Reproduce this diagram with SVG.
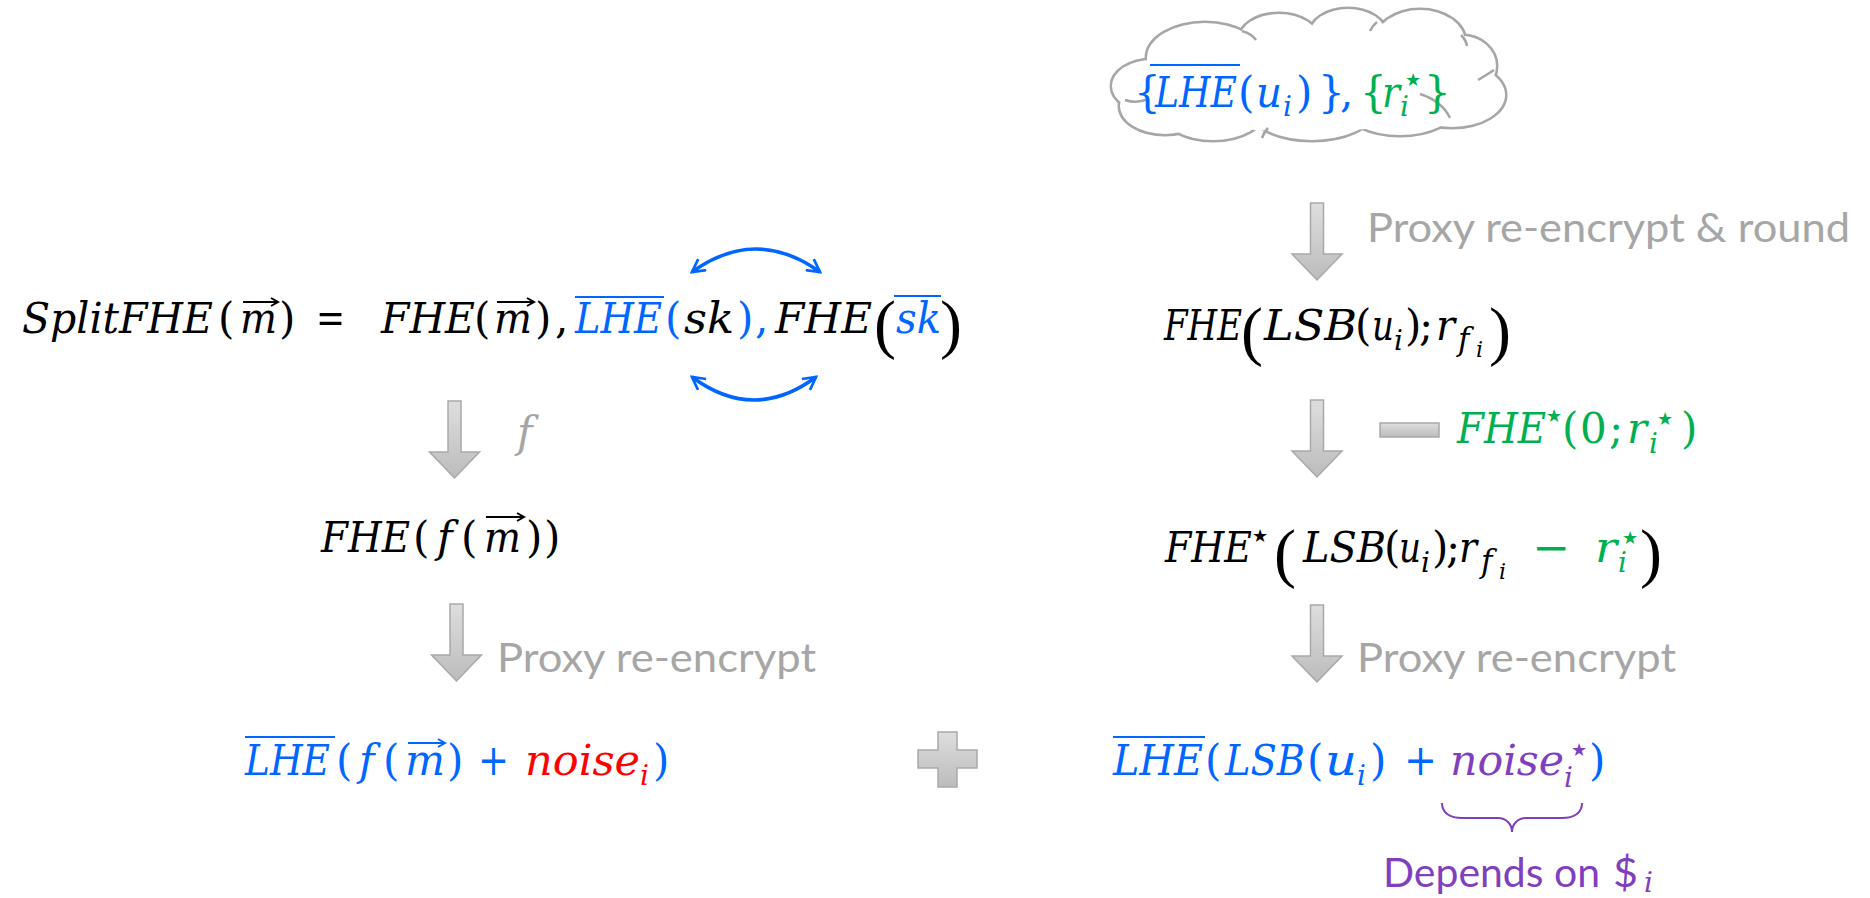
<svg xmlns="http://www.w3.org/2000/svg" width="1870" height="898" viewBox="0 0 1870 898">
<style>
.m{font-family:"DejaVu Serif","Liberation Serif",serif;font-style:italic;font-size:42px}
.n{font-style:normal}
.sub{font-size:28px}
.sf{font-size:31px}
.ss{font-size:22px}
.st{font-family:"DejaVu Sans",sans-serif;font-style:normal;font-size:18px}
.big{font-family:"Liberation Serif",serif;font-size:66px;font-style:normal}
.lbl{font-family:Lato,"Open Sans","Liberation Sans",sans-serif;font-size:40px}
.k{fill:#000}
.b{fill:#0066ff}
.g{fill:#00b050}
.r{fill:#ff0000}
.p{fill:#7f3fbf}
.gr{fill:#a6a6a6}
.blk{fill:url(#gg);stroke:#a9a9a9;stroke-width:1.5}
.cs{fill:#fff;stroke:#a6a6a6;stroke-width:5}
.cf{fill:#fff;stroke:none}
</style>
<defs>
<linearGradient id="gg" x1="0" y1="0" x2="0" y2="1">
<stop offset="0" stop-color="#dedede"/>
<stop offset="1" stop-color="#bcbcbc"/>
</linearGradient>
<path id="barrow" d="M-6.5,0 H6.5 V51 H25 L0,77 L-25,51 H-6.5 Z"/>
<marker id="oa" viewBox="0 0 14 14" refX="12" refY="7" markerWidth="16" markerHeight="16" markerUnits="userSpaceOnUse" orient="auto-start-reverse">
<path d="M1,1 L12,7 L1,13" fill="none" stroke="#0066ff" stroke-width="2.4"/>
</marker>
</defs>
<rect width="1870" height="898" fill="#fff"/>

<g id="connectors">
<use href="#barrow" x="454.5" y="401" class="blk"/>
<use href="#barrow" x="456.5" y="604" class="blk"/>
<use href="#barrow" x="1317" y="203" class="blk"/>
<use href="#barrow" x="1317" y="400" class="blk"/>
<use href="#barrow" x="1317" y="605" class="blk"/>
<path d="M692,272 Q756,226 820,272" fill="none" stroke="#0066ff" stroke-width="3.5" marker-start="url(#oa)" marker-end="url(#oa)"/>
<path d="M692,377 Q754,423 816,377" fill="none" stroke="#0066ff" stroke-width="3.5" marker-start="url(#oa)" marker-end="url(#oa)"/>
<rect x="1380" y="423" width="59" height="14" class="blk"/>
<path d="M938,732 H957 V750 H977 V768 H957 V787 H938 V768 H918 V750 H938 Z" class="blk"/>
</g>

<g id="cloud">
<g class="cs">
<ellipse cx="1152" cy="86" rx="40" ry="26"/>
<ellipse cx="1205" cy="58" rx="58" ry="35"/>
<ellipse cx="1279" cy="40" rx="40" ry="26"/>
<ellipse cx="1348" cy="34" rx="38" ry="25"/>
<ellipse cx="1420" cy="42" rx="45" ry="32"/>
<ellipse cx="1462" cy="66" rx="34" ry="30"/>
<ellipse cx="1452" cy="95" rx="53" ry="32"/>
<ellipse cx="1400" cy="108" rx="55" ry="27"/>
<ellipse cx="1312" cy="112" rx="60" ry="28"/>
<ellipse cx="1213" cy="110" rx="52" ry="30"/>
<ellipse cx="1165" cy="106" rx="45" ry="28"/>
</g>
<g class="cf">
<ellipse cx="1152" cy="86" rx="40" ry="26"/>
<ellipse cx="1205" cy="58" rx="58" ry="35"/>
<ellipse cx="1279" cy="40" rx="40" ry="26"/>
<ellipse cx="1348" cy="34" rx="38" ry="25"/>
<ellipse cx="1420" cy="42" rx="45" ry="32"/>
<ellipse cx="1462" cy="66" rx="34" ry="30"/>
<ellipse cx="1452" cy="95" rx="53" ry="32"/>
<ellipse cx="1400" cy="108" rx="55" ry="27"/>
<ellipse cx="1312" cy="112" rx="60" ry="28"/>
<ellipse cx="1213" cy="110" rx="52" ry="30"/>
<ellipse cx="1165" cy="106" rx="45" ry="28"/>
<ellipse cx="1305" cy="85" rx="170" ry="47"/>
</g>
<path d="M1125,100 Q1137,104 1148,99 M1242,31 Q1252,34 1256,40 M1377,22 Q1372,26 1370,31 M1461,35 Q1466,40 1467,46 M1478,80 Q1488,74 1494,70 M1420,94 Q1442,101 1450,118 M1262,138 Q1264,132 1268,128" fill="none" stroke="#a6a6a6" stroke-width="2.5"/>
<g class="m">
<text class="b n" x="1134" y="107">{</text>
<text class="b" x="1155" y="107" textLength="82" lengthAdjust="spacingAndGlyphs">LHE</text>
<text class="b n" x="1238" y="107">(</text>
<text class="b" x="1256" y="107" textLength="26" lengthAdjust="spacingAndGlyphs">u</text>
<text class="b sub" x="1283" y="116">i</text>
<text class="b n" x="1296" y="107">)</text>
<text class="b n" x="1318" y="107">}</text>
<text class="b n" x="1340" y="107">,</text>
<text class="g n" x="1360" y="107">{</text>
<text class="g" x="1382" y="107" textLength="18" lengthAdjust="spacingAndGlyphs">r</text>
<text class="g sub" x="1400" y="116">i</text>
<text class="g st" x="1405" y="86">★</text>
<text class="g n" x="1424" y="107">}</text>
</g>
<line x1="1150" y1="65" x2="1240" y2="65" stroke="#0066ff" stroke-width="2.2"/>
</g>

<g id="splitfhe" class="m">
<text class="k" x="22" y="333" textLength="191" lengthAdjust="spacingAndGlyphs">SplitFHE</text>
<text class="k n" x="218" y="333">(</text>
<text class="k" x="240" y="333" textLength="37" lengthAdjust="spacingAndGlyphs">m</text>
<text class="k n" x="279" y="333">)</text>
<text class="k n" x="316" y="333" textLength="29" lengthAdjust="spacingAndGlyphs">=</text>
<text class="k" x="381" y="333" textLength="94" lengthAdjust="spacingAndGlyphs">FHE</text>
<text class="k n" x="474" y="333">(</text>
<text class="k" x="494" y="333" textLength="38" lengthAdjust="spacingAndGlyphs">m</text>
<text class="k n" x="535" y="333">)</text>
<text class="k n" x="555" y="333">,</text>
<text class="b" x="575" y="333" textLength="87" lengthAdjust="spacingAndGlyphs">LHE</text>
<text class="b n" x="665" y="333">(</text>
<text class="k" x="684" y="333" textLength="50" lengthAdjust="spacingAndGlyphs">sk</text>
<text class="b n" x="737" y="333">)</text>
<text class="b n" x="755" y="333">,</text>
<text class="k" x="775" y="333" textLength="97" lengthAdjust="spacingAndGlyphs">FHE</text>
<text class="k big" x="874" y="346">(</text>
<text class="b" x="896" y="333" textLength="45" lengthAdjust="spacingAndGlyphs">sk</text>
<text class="k big" x="940" y="346">)</text>
<path d="M243,302 H278 M271,298 L278,302 L271,306 M497,302 H534 M527,298 L534,302 L527,306" fill="none" stroke="#000" stroke-width="2"/>
<path d="M575,297 H664 M894,296 H941" fill="none" stroke="#0066ff" stroke-width="2.2"/>
</g>

<g id="f-label" class="m">
<text class="gr" x="517" y="447">f</text>
</g>

<g id="fhe-fm" class="m">
<text class="k" x="321" y="552" textLength="89" lengthAdjust="spacingAndGlyphs">FHE</text>
<text class="k n" x="413" y="552">(</text>
<text class="k" x="437" y="552">f</text>
<text class="k n" x="461" y="552">(</text>
<text class="k" x="484" y="552" textLength="37" lengthAdjust="spacingAndGlyphs">m</text>
<text class="k n" x="526" y="552">)</text>
<text class="k n" x="544" y="552">)</text>
<path d="M486,517 H524 M517,513 L524,517 L517,521" fill="none" stroke="#000" stroke-width="2"/>
</g>

<g id="proxy-left">
<text class="lbl gr" x="497" y="672" textLength="319" lengthAdjust="spacingAndGlyphs">Proxy re-encrypt</text>
</g>

<g id="lhe-fm" class="m">
<text class="b" x="245" y="775" textLength="85" lengthAdjust="spacingAndGlyphs">LHE</text>
<text class="b n" x="336" y="775">(</text>
<text class="b" x="359" y="775">f</text>
<text class="b n" x="383" y="775">(</text>
<text class="b" x="405" y="775" textLength="40" lengthAdjust="spacingAndGlyphs">m</text>
<text class="b n" x="447" y="775">)</text>
<text class="b n" x="478" y="775" textLength="31" lengthAdjust="spacingAndGlyphs">+</text>
<text class="r" x="525" y="775" textLength="115" lengthAdjust="spacingAndGlyphs">noise</text>
<text class="r sub" x="640" y="785">i</text>
<text class="b n" x="653" y="775">)</text>
<path d="M245,737 H335" stroke="#0066ff" stroke-width="2.2"/>
<path d="M408,743 H445 M438,739 L445,743 L438,747" fill="none" stroke="#0066ff" stroke-width="2"/>
</g>

<g id="proxy-round">
<text class="lbl gr" x="1367" y="242" textLength="483" lengthAdjust="spacingAndGlyphs">Proxy re-encrypt &amp; round</text>
</g>

<g id="fhe-lsb" class="m">
<text class="k" x="1164" y="340" textLength="78" lengthAdjust="spacingAndGlyphs">FHE</text>
<text class="k big" x="1241" y="353">(</text>
<text class="k" x="1264" y="340" textLength="93" lengthAdjust="spacingAndGlyphs">LSB</text>
<text class="k n" x="1355" y="340">(</text>
<text class="k" x="1372" y="340" textLength="22" lengthAdjust="spacingAndGlyphs">u</text>
<text class="k sub" x="1394" y="350">i</text>
<text class="k n" x="1405" y="340">)</text>
<text class="k n" x="1419" y="340">;</text>
<text class="k" x="1436" y="340" textLength="19" lengthAdjust="spacingAndGlyphs">r</text>
<text class="k sf" x="1458" y="350">f</text>
<text class="k ss" x="1476" y="357">i</text>
<text class="k big" x="1489" y="353">)</text>
</g>

<g id="minus-label" class="m">
<text class="g" x="1457" y="443" textLength="89" lengthAdjust="spacingAndGlyphs">FHE</text>
<text class="g st" x="1546" y="422">★</text>
<text class="g n" x="1562" y="443">(</text>
<text class="g n" x="1580" y="443">0</text>
<text class="g n" x="1609" y="443">;</text>
<text class="g" x="1627" y="443" textLength="20" lengthAdjust="spacingAndGlyphs">r</text>
<text class="g sub" x="1649" y="453">i</text>
<text class="g st" x="1657" y="425">★</text>
<text class="g n" x="1681" y="443">)</text>
</g>

<g id="fhe-star" class="m">
<text class="k" x="1165" y="562" textLength="87" lengthAdjust="spacingAndGlyphs">FHE</text>
<text class="k st" x="1252" y="542">★</text>
<text class="k big" x="1274" y="575">(</text>
<text class="k" x="1303" y="562" textLength="83" lengthAdjust="spacingAndGlyphs">LSB</text>
<text class="k n" x="1384" y="562">(</text>
<text class="k" x="1399" y="562" textLength="22" lengthAdjust="spacingAndGlyphs">u</text>
<text class="k sub" x="1421" y="572">i</text>
<text class="k n" x="1432" y="562">)</text>
<text class="k n" x="1446" y="562">;</text>
<text class="k" x="1459" y="562" textLength="18" lengthAdjust="spacingAndGlyphs">r</text>
<text class="k sf" x="1481" y="572">f</text>
<text class="k ss" x="1499" y="579">i</text>
<text class="g n" x="1532" y="562" textLength="38" lengthAdjust="spacingAndGlyphs">−</text>
<text class="g" x="1595" y="562" textLength="22" lengthAdjust="spacingAndGlyphs">r</text>
<text class="g sub" x="1618" y="572">i</text>
<text class="g st" x="1622" y="544">★</text>
<text class="k big" x="1640" y="575">)</text>
</g>

<g id="proxy-right">
<text class="lbl gr" x="1357" y="672" textLength="319" lengthAdjust="spacingAndGlyphs">Proxy re-encrypt</text>
</g>

<g id="lhe-lsb" class="m">
<text class="b" x="1113" y="775" textLength="90" lengthAdjust="spacingAndGlyphs">LHE</text>
<text class="b n" x="1205" y="775">(</text>
<text class="b" x="1225" y="775" textLength="80" lengthAdjust="spacingAndGlyphs">LSB</text>
<text class="b n" x="1307" y="775">(</text>
<text class="b" x="1325" y="775" textLength="32" lengthAdjust="spacingAndGlyphs">u</text>
<text class="b sub" x="1357" y="785">i</text>
<text class="b n" x="1370" y="775">)</text>
<text class="b n" x="1404" y="775" textLength="33" lengthAdjust="spacingAndGlyphs">+</text>
<text class="p" x="1450" y="775" textLength="114" lengthAdjust="spacingAndGlyphs">noise</text>
<text class="p sub" x="1564" y="787">i</text>
<text class="p st" x="1571" y="756">★</text>
<text class="b n" x="1589" y="775">)</text>
<path d="M1113,737 H1205" stroke="#0066ff" stroke-width="2.2"/>
</g>

<g id="depends">
<path d="M1442,803 C1442,813 1450,818 1462,818 H1498 C1506,818 1512,824 1512,832 C1512,824 1518,818 1526,818 H1562 C1574,818 1582,813 1582,803" fill="none" stroke="#7f3fbf" stroke-width="2"/>
<text class="lbl p" x="1383" y="887" textLength="217" lengthAdjust="spacingAndGlyphs">Depends on</text>
<text class="lbl p" x="1613" y="887" textLength="25" lengthAdjust="spacingAndGlyphs">$</text>
<text class="m sub p" x="1644" y="892">i</text>
</g>
</svg>
